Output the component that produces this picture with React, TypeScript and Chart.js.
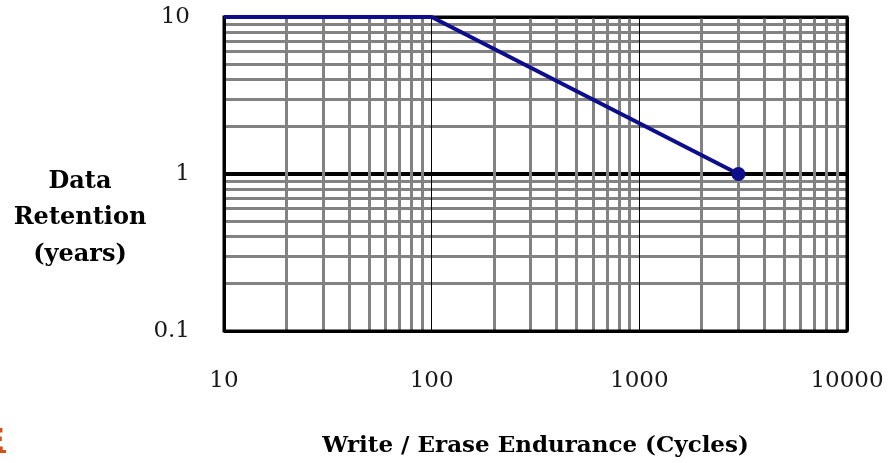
import React, { useEffect, useRef } from 'react';
import { Chart, registerables } from 'chart.js';

Chart.register(...registerables);

// ---- data ----
const cycles = [10, 100, 3000];
const retentionYears = [10, 10, 1];
const markerRadius = [0, 0, 7];

// ---- axes ----
const xDecades = [10, 100, 1000];
const xMajorTicks = [10, 100, 1000, 10000];
const xTickLabels = ['10', '100', '1000', '10000'];
const yDecades = [0.1, 1];
const yMajorTicks = [0.1, 1, 10];
const yTickLabels = ['0.1', '1', '10'];
const xMin = 10;
const xMax = 10000;
const yMin = 0.1;
const yMax = 10;
const xTitle = 'Write / Erase Endurance (Cycles)';
const yTitleLines = ['Data', 'Retention', '(years)'];
const stepsPerDecade = [1, 2, 3, 4, 5, 6, 7, 8, 9];
const edgeFragment = 'E';

const LINE_COLOR = '#0e0e8c';
const GRID_GRAY = '#828282';
const TEXT_COLOR = '#1a1a1a';

const near = (a: number, b: number) => Math.abs(a - b) / b < 1e-6;
const idxOf = (arr: number[], v: number) => arr.findIndex((m) => near(v, m));

function logTicks(decades: number[], last: number) {
  const out: { value: number }[] = [];
  decades.forEach((d) => stepsPerDecade.forEach((s) => out.push({ value: d * s })));
  out.push({ value: last });
  return out;
}

export default function App() {
  const ref = useRef<HTMLCanvasElement | null>(null);

  useEffect(() => {
    if (!ref.current) return;

    const frame = {
      id: 'frame',
      beforeDatasetsDraw(chart: any) {
        const { ctx, chartArea: a } = chart;
        ctx.save();
        ctx.strokeStyle = '#000';
        ctx.lineWidth = 3;
        ctx.strokeRect(a.left, a.top, a.right - a.left, a.bottom - a.top);
        ctx.restore();
      },
      afterDraw(chart: any) {
        const { ctx } = chart;
        ctx.save();
        ctx.fillStyle = '#000';
        ctx.font = 'bold 24px "DejaVu Serif"';
        ctx.textAlign = 'center';
        ctx.textBaseline = 'middle';
        const ys = [182, 218, 255];
        yTitleLines.forEach((t, i) => ctx.fillText(t, 80, ys[i]));
        // clipped orange fragment at the bottom-left edge
        ctx.fillStyle = '#d4501c';
        ctx.font = 'bold 32px "DejaVu Sans"';
        ctx.textAlign = 'right';
        ctx.textBaseline = 'alphabetic';
        ctx.fillText(edgeFragment, 5, 451);
        ctx.fillRect(0, 450, 6, 3);
        ctx.restore();
      },
    };

    const chart = new Chart(ref.current, {
      type: 'line',
      data: {
        datasets: [
          {
            data: cycles.map((c, i) => ({ x: c, y: retentionYears[i] })),
            borderColor: LINE_COLOR,
            backgroundColor: LINE_COLOR,
            borderWidth: 4,
            pointRadius: markerRadius,
            pointBackgroundColor: LINE_COLOR,
            pointBorderColor: LINE_COLOR,
            pointBorderWidth: 0,
            tension: 0,
            clip: false,
          },
        ],
      },
      options: {
        animation: false,
        responsive: false,
        maintainAspectRatio: false,
        events: [],
        layout: { autoPadding: false, padding: { left: 0, top: 17, right: 48, bottom: 0 } },
        plugins: { legend: { display: false }, tooltip: { enabled: false } },
        scales: {
          y: {
            type: 'logarithmic',
            min: yMin,
            max: yMax,
            afterBuildTicks: (s: any) => {
              s.ticks = logTicks(yDecades, yMax);
            },
            afterFit: (s: any) => {
              s.width = 224;
              s.paddingTop = 0;
              s.paddingBottom = 0;
            },
            border: { display: false },
            grid: {
              z: -2,
              drawTicks: false,
              color: (c: any) => (idxOf(yMajorTicks, c.tick.value) >= 0 ? '#000' : GRID_GRAY),
              lineWidth: (c: any) => (near(c.tick.value, 1) ? 4 : 3),
            },
            ticks: {
              autoSkip: false,
              padding: 34,
              color: TEXT_COLOR,
              font: { family: 'DejaVu Serif', size: 23 },
              callback: (v: any) => {
                const i = idxOf(yMajorTicks, Number(v));
                return i >= 0 ? yTickLabels[i] : '';
              },
            },
          },
          x: {
            type: 'logarithmic',
            min: xMin,
            max: xMax,
            afterBuildTicks: (s: any) => {
              s.ticks = logTicks(xDecades, xMax);
            },
            afterFit: (s: any) => {
              s.height = 132;
              s.paddingLeft = 0;
              s.paddingRight = 0;
            },
            border: { display: false },
            grid: {
              z: -1,
              drawTicks: false,
              color: (c: any) => (idxOf(xMajorTicks, c.tick.value) >= 0 ? '#000' : GRID_GRAY),
              lineWidth: (c: any) => {
                const v = c.tick.value;
                if (near(v, 100) || near(v, 1000)) return 1;
                return 3;
              },
            },
            ticks: {
              autoSkip: false,
              maxRotation: 0,
              padding: 36,
              color: TEXT_COLOR,
              font: { family: 'DejaVu Serif', size: 23 },
              callback: (v: any) => {
                const i = idxOf(xMajorTicks, Number(v));
                return i >= 0 ? xTickLabels[i] : '';
              },
            },
            title: {
              display: true,
              text: xTitle,
              color: '#000',
              font: { family: 'DejaVu Serif', size: 23, weight: 'bold' },
              padding: { top: 0, bottom: 3 },
            },
          },
        },
      },
      plugins: [frame],
    } as any);

    return () => chart.destroy();
  }, []);

  return (
    <div style={{ position: 'absolute', left: 0, top: 0, width: 895, height: 463, background: '#fff' }}>
      <canvas ref={ref} width={895} height={463} style={{ display: 'block' }} />
    </div>
  );
}
